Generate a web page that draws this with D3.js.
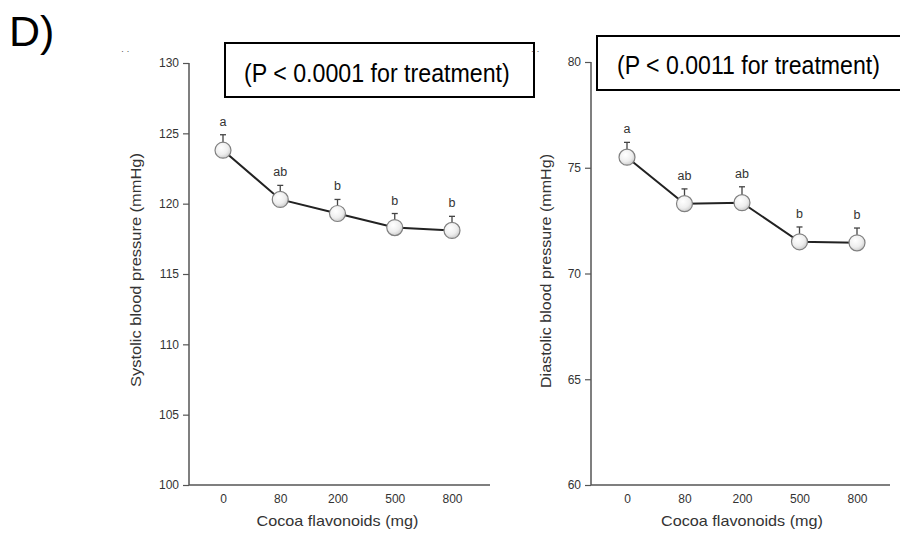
<!DOCTYPE html>
<html><head><meta charset="utf-8">
<script src="https://cdn.jsdelivr.net/npm/d3@7"></script>
<style>body{margin:0;background:#fff}svg{display:block}text{font-family:"Liberation Sans",Arial,sans-serif}</style>
</head><body>
<svg id="c" width="900" height="535"></svg>
<script>
const doses = ["0", "80", "200", "500", "800"];
const systolic = [123.8, 120.3, 119.3, 118.3, 118.1];
const systolicSE = [1.1, 1.0, 1.0, 1.0, 1.0];
const systolicLetters = ["a", "ab", "b", "b", "b"];
const diastolic = [75.5, 73.3, 73.35, 71.5, 71.45];
const diastolicSE = [0.7, 0.7, 0.75, 0.7, 0.7];
const diastolicLetters = ["a", "ab", "ab", "b", "b"];
const sysTicks = [100, 105, 110, 115, 120, 125, 130];
const diaTicks = [60, 65, 70, 75, 80];

const FONT = "Liberation Sans, Arial, sans-serif";
const svg = d3.select("#c");
const defs = svg.append("defs");
const grad = defs.append("radialGradient").attr("id","g").attr("cx","40%").attr("cy","35%").attr("r","70%");
grad.append("stop").attr("offset","0%").attr("stop-color","#ffffff");
grad.append("stop").attr("offset","60%").attr("stop-color","#eeeeee");
grad.append("stop").attr("offset","100%").attr("stop-color","#c8c8c8");

svg.append("text").attr("x",9).attr("y",46).attr("font-size",43).attr("fill","#000").style("font-family",FONT).text("D)");

function panel(o){
  const g = svg.append("g");
  const x = d3.scalePoint().domain(doses).range([o.x0, o.x1]);
  const y = d3.scaleLinear().domain(o.dom).range([485, o.top]);
  const ya = g.append("g").attr("transform",`translate(${o.ax},0)`)
    .call(d3.axisLeft(y).tickValues(o.ticks).tickSize(6).tickPadding(4).tickFormat(d3.format("d")));
  ya.selectAll("path").remove();
  ya.selectAll("line").attr("stroke","#555").attr("stroke-width",1.2);
  ya.selectAll("text").attr("font-size",12).attr("fill","#333").style("font-family",FONT);
  g.append("line").attr("x1",o.ax).attr("x2",o.ax).attr("y1",y(o.dom[1])).attr("y2",485).attr("stroke","#555").attr("stroke-width",1.5);
  g.append("line").attr("x1",o.ax).attr("x2",o.axEnd).attr("y1",485).attr("y2",485).attr("stroke","#555").attr("stroke-width",1.5);
  const xa = g.append("g").attr("transform","translate(0,485)")
    .call(d3.axisBottom(x).tickSize(0).tickPadding(9));
  xa.selectAll("path").remove();
  xa.selectAll("text").attr("font-size",12).attr("fill","#333").style("font-family",FONT);
  g.append("text").attr("transform",`translate(${o.ytx},${o.yty}) rotate(-90)`).attr("text-anchor","middle")
    .attr("font-size",15).attr("fill","#333").attr("textLength",234).attr("lengthAdjust","spacingAndGlyphs").text(o.ytitle);
  g.append("text").attr("x",(x("0")+x("800"))/2).attr("y",526).attr("text-anchor","middle")
    .attr("font-size",15).attr("fill","#333").attr("textLength",162).attr("lengthAdjust","spacingAndGlyphs").text("Cocoa flavonoids (mg)");
  const pts = doses.map((d,i)=>({d, v:o.vals[i], se:o.se[i], l:o.letters[i]}));
  g.append("path").datum(pts).attr("fill","none").attr("stroke","#222").attr("stroke-width",2)
    .attr("d", d3.line().x(p=>x(p.d)).y(p=>y(p.v)));
  const eb = g.selectAll(".eb").data(pts).enter().append("g");
  eb.append("line").attr("x1",p=>x(p.d)).attr("x2",p=>x(p.d)).attr("y1",p=>y(p.v)).attr("y2",p=>y(p.v+p.se)).attr("stroke","#444").attr("stroke-width",1.3);
  eb.append("line").attr("x1",p=>x(p.d)-3).attr("x2",p=>x(p.d)+3).attr("y1",p=>y(p.v+p.se)).attr("y2",p=>y(p.v+p.se)).attr("stroke","#444").attr("stroke-width",1.3);
  g.selectAll(".pt").data(pts).enter().append("circle").attr("cx",p=>x(p.d)).attr("cy",p=>y(p.v)).attr("r",8)
    .attr("fill","url(#g)").attr("stroke","#808080").attr("stroke-width",1.2);
  g.selectAll(".lt").data(pts).enter().append("text").attr("x",p=>x(p.d)).attr("y",p=>y(p.v+p.se)-9)
    .attr("text-anchor","middle").attr("font-size",12.5).attr("fill","#333").text(p=>p.l);
  g.append("rect").attr("x",o.bx).attr("y",o.by).attr("width",o.bw).attr("height",o.bh).attr("fill","#fff").attr("stroke","#000").attr("stroke-width",2);
  const pt = g.append("text").attr("x",0).attr("y",0).attr("font-size",26).attr("fill","#000").text(o.ptext);
  const nat = pt.node().getComputedTextLength();
  pt.attr("transform",`translate(${o.tx},${o.ty}) scale(${o.tl/nat},1)`);
  g.append("text").attr("x",o.dotx).attr("y",54).attr("font-size",9).attr("fill","#555").text("·  ·");
}

panel({x0:223, x1:452, ax:189, axEnd:490, top:63, dom:[100,130], ticks:sysTicks, vals:systolic, se:systolicSE, letters:systolicLetters,
  ytitle:"Systolic blood pressure (mmHg)", ytx:141, yty:270,
  bx:225, by:43, bw:309, bh:54, tx:244, ty:82, tl:266, ptext:"(P < 0.0001 for treatment)", dotx:121});
panel({x0:627, x1:857, ax:591, axEnd:890, top:62, dom:[60,80], ticks:diaTicks, vals:diastolic, se:diastolicSE, letters:diastolicLetters,
  ytitle:"Diastolic blood pressure (mmHg)", ytx:551, yty:271,
  bx:597, by:36, bw:320, bh:54, tx:617, ty:74, tl:263, ptext:"(P < 0.0011 for treatment)", dotx:531});
</script>
</body></html>
